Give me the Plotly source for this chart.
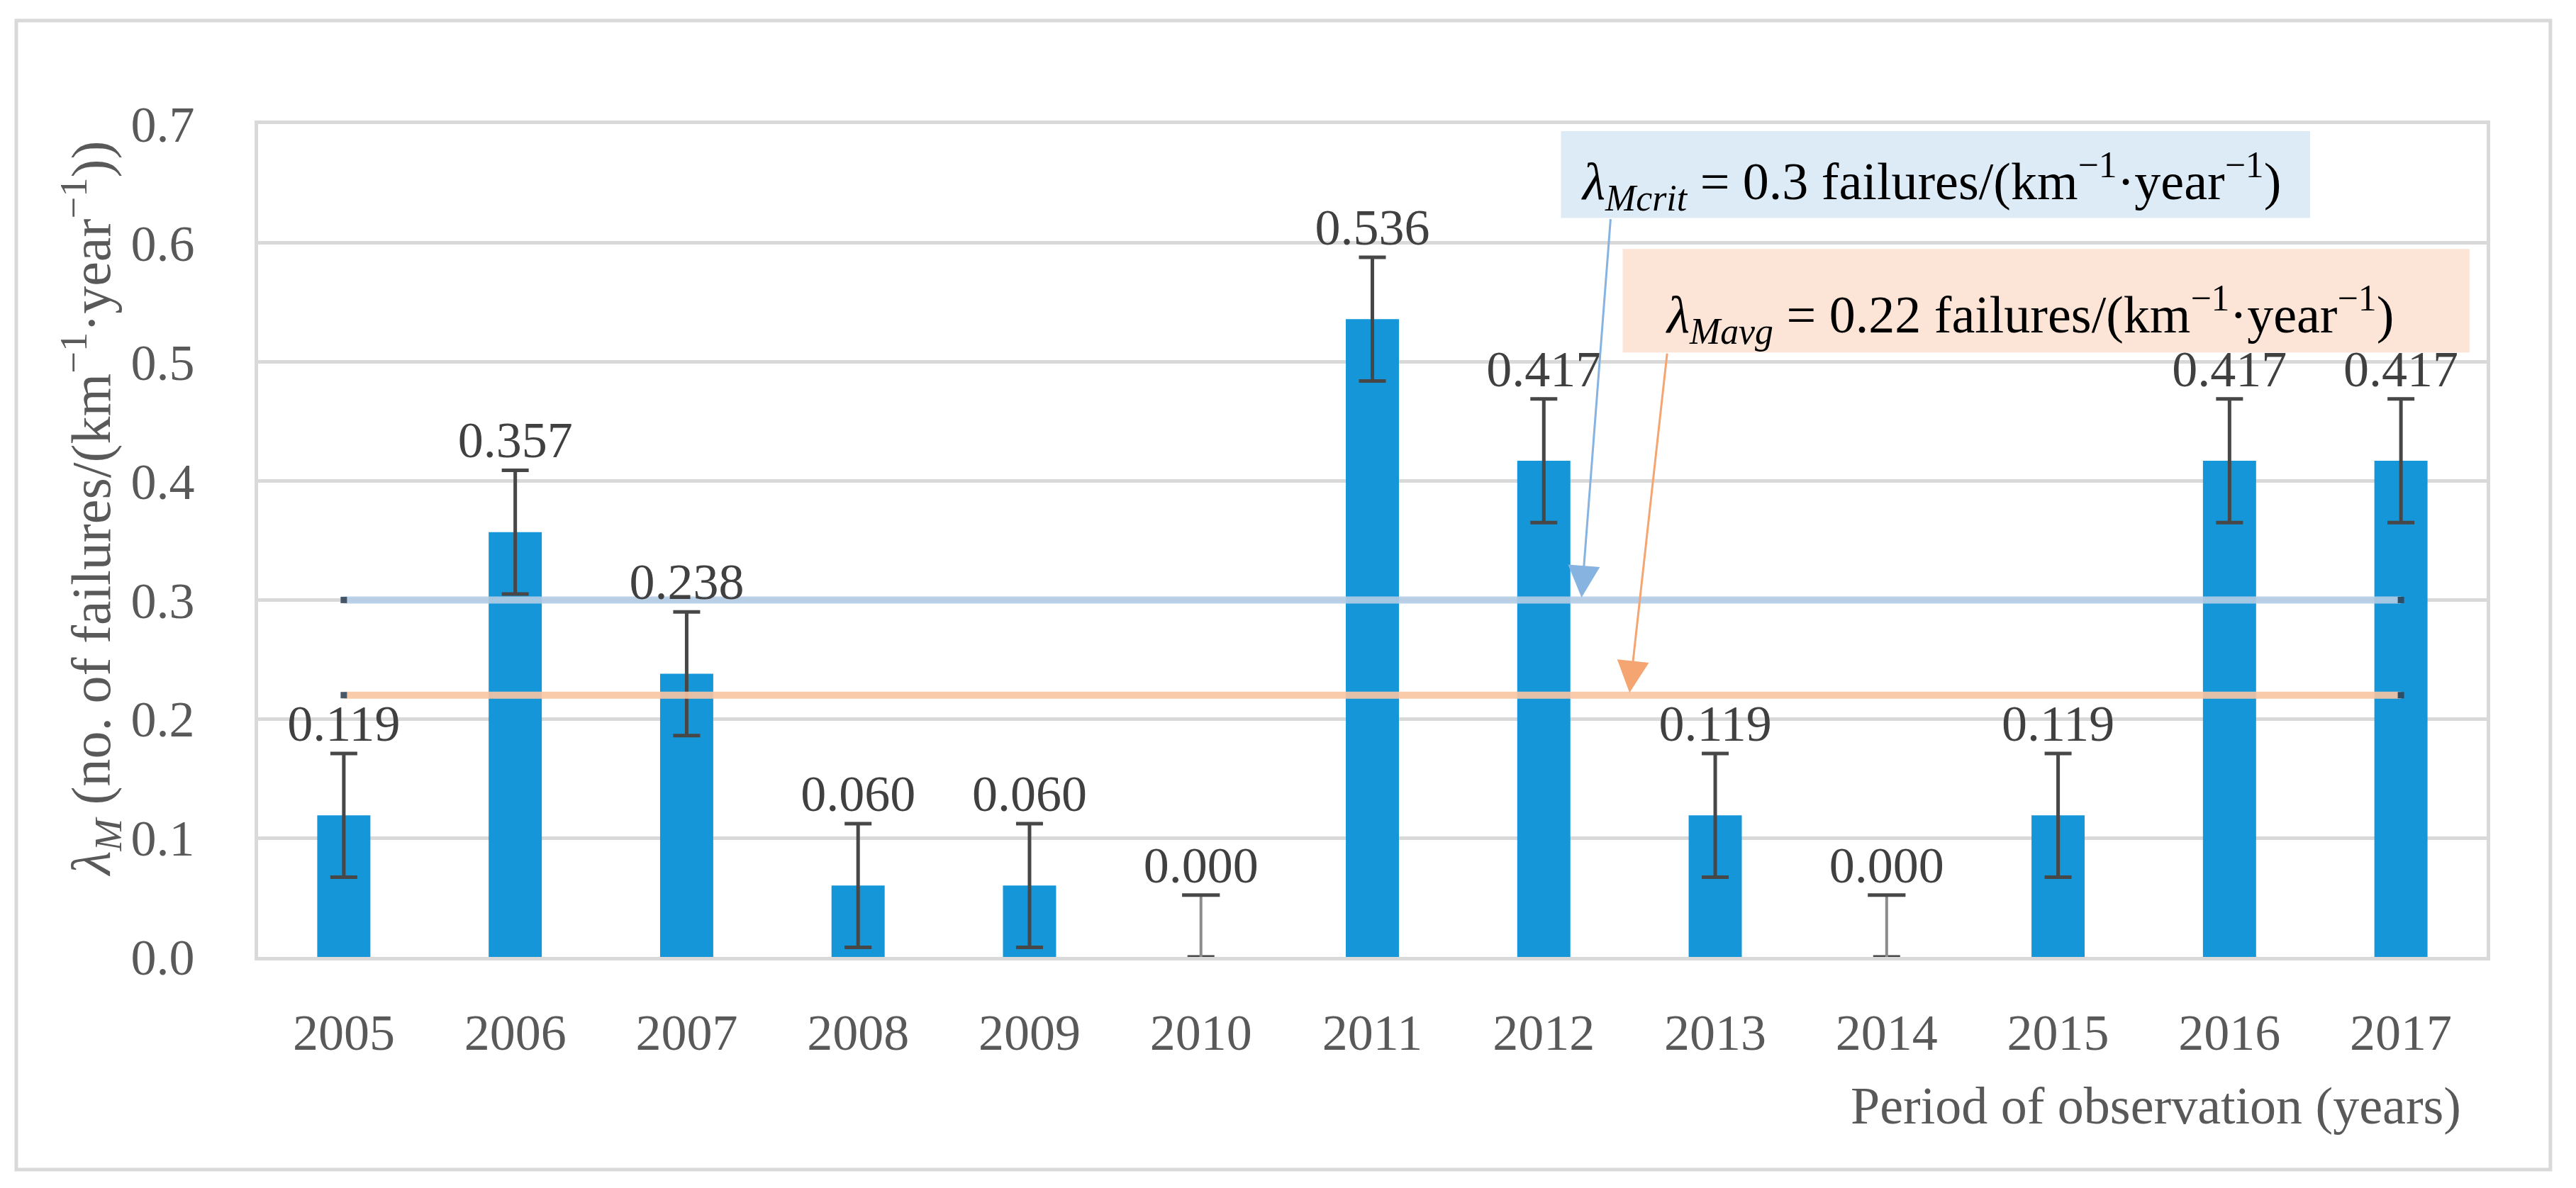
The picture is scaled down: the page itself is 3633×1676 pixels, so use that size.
import plotly.graph_objects as go

# ---------------- data ----------------
years = [2005, 2006, 2007, 2008, 2009, 2010, 2011, 2012, 2013, 2014, 2015, 2016, 2017]
failure_rate = [0.119, 0.357, 0.238, 0.060, 0.060, 0.000, 0.536, 0.417, 0.119, 0.000, 0.119, 0.417, 0.417]
error_plus = [0.052, 0.052, 0.052, 0.052, 0.052, 0.052, 0.052, 0.052, 0.052, 0.052, 0.052, 0.052, 0.052]
value_labels = ["0.119", "0.357", "0.238", "0.060", "0.060", "0.000", "0.536",
                "0.417", "0.119", "0.000", "0.119", "0.417", "0.417"]
lambda_crit = 0.3
lambda_avg = 0.22
y_ticks = [0.0, 0.1, 0.2, 0.3, 0.4, 0.5, 0.6, 0.7]
y_tick_labels = ["0.0", "0.1", "0.2", "0.3", "0.4", "0.5", "0.6", "0.7"]
x_tick_labels = [str(y) for y in years]

FONT = "Liberation Serif"
GRID = "#d9d9d9"
ERR = "#474747"

# error bars: full (symmetric) for non-zero bars, upward only for zero bars
err_nonzero = [e if v > 0 else None for v, e in zip(failure_rate, error_plus)]
zero_x = [x for x, v in zip(years, failure_rate) if v == 0]
zero_y = [v for v in failure_rate if v == 0]
zero_err = [e for v, e in zip(failure_rate, error_plus) if v == 0]

fig = go.Figure()

fig.add_trace(go.Bar(
    x=years, y=failure_rate, width=0.31,
    marker=dict(color="#1596d8", line=dict(width=0)),
    error_y=dict(type="data", symmetric=True, array=err_nonzero,
                 color=ERR, thickness=5, width=19),
    showlegend=False, hoverinfo="skip",
))

# upward-only error bars on the zero bars (no lower cap)
fig.add_trace(go.Scatter(
    x=zero_x, y=zero_y, mode="markers", marker=dict(size=1, color="rgba(0,0,0,0)"),
    error_y=dict(type="data", symmetric=False, array=zero_err, arrayminus=[0] * len(zero_err),
                 color="#8c8c8c", thickness=4, width=0),
    showlegend=False, hoverinfo="skip",
))
fig.add_trace(go.Scatter(
    x=zero_x, y=[v + e for v, e in zip(zero_y, zero_err)], mode="markers",
    marker=dict(symbol="line-ew", size=38, color=ERR, line=dict(color=ERR, width=5)),
    showlegend=False, hoverinfo="skip",
))

for val, col in [(lambda_crit, "#b4cde6"), (lambda_avg, "#f9c6a3")]:
    fig.add_trace(go.Scatter(
        x=[years[0], years[-1]], y=[val, val], mode="lines+markers",
        line=dict(color=col, width=10),
        marker=dict(color="#34465a", size=9, symbol="square"),
        opacity=0.9, showlegend=False, hoverinfo="skip",
    ))

fig.add_trace(go.Scatter(
    x=years, y=[v + e for v, e in zip(failure_rate, error_plus)],
    mode="text", text=value_labels, textposition="top center",
    textfont=dict(family=FONT, size=72, color="#404040"),
    showlegend=False, hoverinfo="skip", cliponaxis=False,
))

# annotation boxes
fig.add_shape(type="rect", xref="x", yref="y", x0=2012.10, x1=2016.47, y0=0.621, y1=0.694,
              fillcolor="#ddebf7", line=dict(width=0), layer="below")
fig.add_shape(type="rect", xref="x", yref="y", x0=2012.46, x1=2017.40, y0=0.508, y1=0.595,
              fillcolor="#fce4d6", line=dict(width=0), layer="below")

# outer frame
fig.add_shape(type="rect", xref="paper", yref="paper", x0=-0.1085, x1=1.0286, y0=-0.2553, y1=1.1243,
              line=dict(color=GRID, width=5), fillcolor="rgba(0,0,0,0)")

fig.add_annotation(xref="x", yref="y", x=2012.21, y=0.652, xanchor="left", yanchor="middle",
                   text="<i>λ<sub>Mcrit</sub></i> = 0.3 failures/(km<sup>−1</sup>·year<sup>−1</sup>)",
                   showarrow=False, font=dict(family=FONT, size=74, color="#000000"))
fig.add_annotation(xref="x", yref="y", x=2012.70, y=0.540, xanchor="left", yanchor="middle",
                   text="<i>λ<sub>Mavg</sub></i> = 0.22 failures/(km<sup>−1</sup>·year<sup>−1</sup>)",
                   showarrow=False, font=dict(family=FONT, size=74, color="#000000"))

# arrows
fig.add_annotation(xref="x", yref="y", axref="x", ayref="y", x=2012.22, y=0.302, ax=2012.39, ay=0.621,
                   text="", showarrow=True, arrowhead=2, arrowsize=3, arrowwidth=3,
                   arrowcolor="#86b3df", standoff=0)
fig.add_annotation(xref="x", yref="y", axref="x", ayref="y", x=2012.50, y=0.222, ax=2012.72, ay=0.508,
                   text="", showarrow=True, arrowhead=2, arrowsize=3, arrowwidth=3,
                   arrowcolor="#f5a572", standoff=0)

# axis titles
fig.add_annotation(xref="paper", yref="paper", x=-0.0750, y=0.5387, xanchor="center", yanchor="middle",
                   textangle=-90, showarrow=False,
                   text="<i>λ<sub>M</sub></i> (no. of failures/(km<sup>−1</sup>·year<sup>−1</sup>))",
                   font=dict(family=FONT, size=78, color="#595959"))
fig.add_annotation(xref="paper", yref="paper", x=0.9892, y=-0.1787, xanchor="right", yanchor="middle",
                   showarrow=False, text="Period of observation (years)",
                   font=dict(family=FONT, size=74, color="#595959"))

fig.update_layout(
    width=3633, height=1676,
    margin=dict(l=364, r=126, t=175, b=326, pad=0),
    paper_bgcolor="white", plot_bgcolor="white",
    font=dict(family=FONT, size=72, color="#595959"),
    bargap=0.69,
)
fig.update_xaxes(range=[2004.5, 2017.5], tickmode="array", tickvals=years, ticktext=x_tick_labels,
                 showgrid=False, showline=True, linecolor=GRID, linewidth=5, mirror=True,
                 ticks="", ticklabelstandoff=40, zeroline=False,
                 tickfont=dict(family=FONT, size=72, color="#595959"))
fig.update_yaxes(range=[0, 0.7], tickmode="array", tickvals=y_ticks, ticktext=y_tick_labels,
                 showgrid=True, gridcolor=GRID, gridwidth=5, showline=True, linecolor=GRID,
                 linewidth=5, mirror=True, ticks="", ticklabelstandoff=70, zeroline=False,
                 tickfont=dict(family=FONT, size=72, color="#595959"))

fig.write_html("out.html", config={"displayModeBar": False},
               post_script="document.body.style.margin='0';document.body.style.overflow='hidden';")
